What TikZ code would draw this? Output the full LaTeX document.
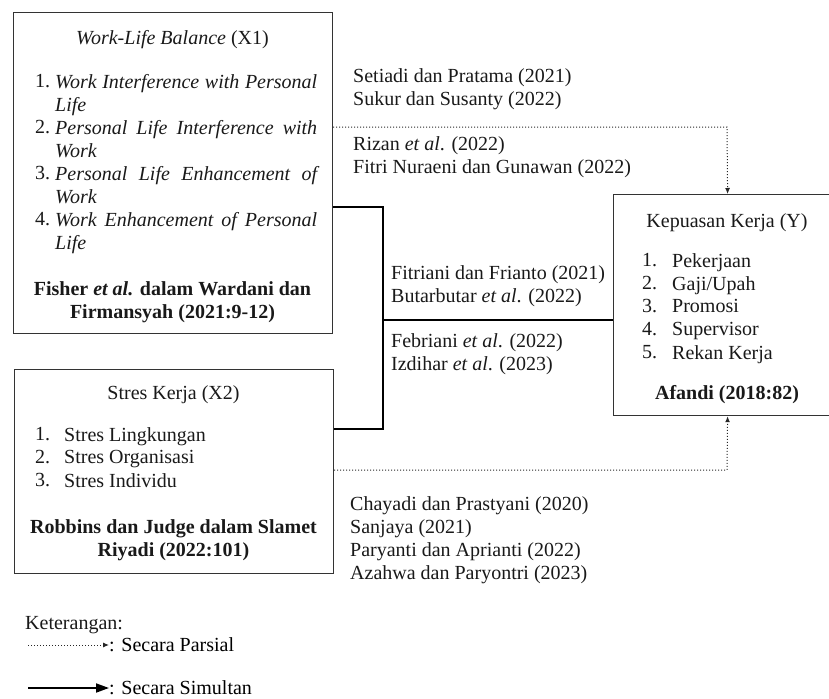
\documentclass[tikz,border=0pt]{standalone}
\usepackage{fontspec}
\setmainfont{Liberation Serif}
\usetikzlibrary{arrows.meta}
\newcommand{\jline}[1]{\makebox[262pt][s]{#1}}

\begin{document}
\begin{tikzpicture}[x=1pt, y=-1pt, font=\fontsize{20}{23}\selectfont,
      box/.style={draw=black!80, line width=1.2pt, inner sep=0pt},
      txt/.style={inner sep=0pt, anchor=north west, align=left, text=black!90},
      ctr/.style={inner sep=0pt, anchor=north, align=center, text=black!90},
      simul/.style={line width=2.2pt},
      parsial/.style={draw=black!85, dotted, line width=1pt,
        -{Latex[length=6pt, width=5pt]}}]
    \useasboundingbox (0,0) rectangle (829,698);
    \clip (0,0) rectangle (829,698);
    \node[box, minimum width=319pt, minimum height=321pt, anchor=north west] (x1) at (13,12) {};
    \node[box, minimum width=319pt, minimum height=204pt, anchor=north west] (x2) at (14,369) {};
    \node[box, minimum width=228pt, minimum height=221pt, anchor=north west] (y) at (613,194) {};
    \node[ctr] (x1t) at (172.5,30) {\textit{Work-Life Balance} (X1)};
    \node[txt] (x1n1) at (35,74) {1.};
    \node[txt, font=\fontsize{20}{23}\selectfont\itshape] (x1i1) at (55,74) {\jline{Work Interference with Personal}\\Life};
    \node[txt] (x1n2) at (35,120) {2.};
    \node[txt, font=\fontsize{20}{23}\selectfont\itshape] (x1i2) at (55,120) {\jline{Personal Life Interference with}\\Work};
    \node[txt] (x1n3) at (35,166) {3.};
    \node[txt, font=\fontsize{20}{23}\selectfont\itshape] (x1i3) at (55,166) {\jline{Personal Life Enhancement of}\\Work};
    \node[txt] (x1n4) at (35,212) {4.};
    \node[txt, font=\fontsize{20}{23}\selectfont\itshape] (x1i4) at (55,212) {\jline{Work Enhancement of Personal}\\Life};
    \node[ctr, font=\fontsize{20}{23}\selectfont\bfseries] (x1s) at (172.5,281) {Fisher \textit{et al.} dalam Wardani dan\\Firmansyah (2021:9-12)};
    \node[ctr] (x2t) at (173.5,385) {Stres Kerja (X2)};
    \foreach \t [count=\i] in {Stres Lingkungan, Stres Organisasi, Stres Individu} {
      \node[txt] (x2n\i) at (35,427+23*\i-23) {\i.};
      \node[txt] (x2i\i) at (64,427+23*\i-23) {\t};
    }
    \node[ctr, font=\fontsize{20}{23}\selectfont\bfseries] (x2s) at (173.5,519) {Robbins dan Judge dalam Slamet\\Riyadi (2022:101)};
    \node[ctr] (yt) at (727,213) {Kepuasan Kerja (Y)};
    \foreach \t [count=\i] in {Pekerjaan, {Gaji/Upah}, Promosi, Supervisor, Rekan Kerja} {
      \node[txt] (yn\i) at (642,253+23*\i-23) {\i.};
      \node[txt] (yi\i) at (672,253+23*\i-23) {\t};
    }
    \node[ctr, font=\fontsize{20}{23}\selectfont\bfseries] (ys) at (727,385) {Afandi (2018:82)};
    \node[txt] (c1) at (353,68) {Setiadi dan Pratama (2021)\\Sukur dan Susanty (2022)};
    \node[txt] (c2) at (353,136) {Rizan \textit{et al}. (2022)\\Fitri Nuraeni dan Gunawan (2022)};
    \node[txt] (c3) at (391,265) {Fitriani dan Frianto (2021)\\Butarbutar \textit{et al}. (2022)};
    \node[txt] (c4) at (391,333) {Febriani \textit{et al}. (2022)\\Izdihar \textit{et al}. (2023)};
    \node[txt] (c5) at (350,496) {Chayadi dan Prastyani (2020)\\Sanjaya (2021)\\Paryanti dan Aprianti (2022)\\Azahwa dan Paryontri (2023)};
    \coordinate (jt) at (383,207);
    \coordinate (jm) at (383,320);
    \coordinate (jb) at (383,429);
    \draw[simul] (x1.east |- jt) -- (jt) -- (jb) -- (x2.east |- jb);
    \draw[simul] (jm) -- (y.west |- jm);
    \coordinate (pt) at (727,127);
    \coordinate (pb) at (727,470);
    \draw[parsial] (x1.east |- pt) -- (pt) -- (y.north);
    \draw[parsial] (x2.east |- pb) -- (pb) -- (y.south);
    \node[txt] (ket) at (25,616) {Keterangan:};
    \node[inner sep=0pt, anchor=west] (lp) at (109,645) {: Secara Parsial};
    \node[inner sep=0pt, anchor=west] (ls) at (109,688) {: Secara Simultan};
    \coordinate (lpa) at (28,645);
    \coordinate (lsa) at (28,688);
    \draw[parsial] (lpa) -- (lp.west);
    \draw[line width=1.8pt, -{Triangle[length=13pt, width=9pt]}] (lsa) -- (ls.west);
  \end{tikzpicture}
\end{document}
